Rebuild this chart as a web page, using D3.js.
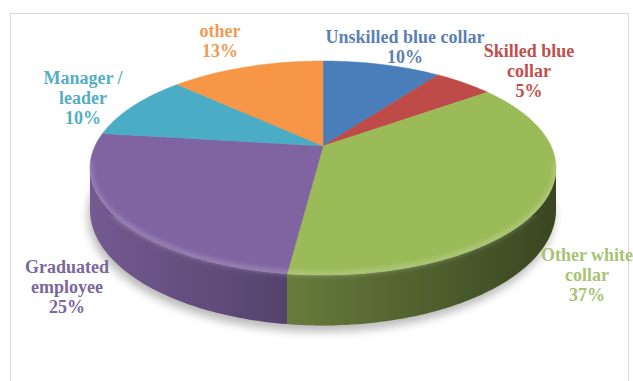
<!DOCTYPE html>
<html>
<head>
<meta charset="utf-8">
<script src="https://cdn.jsdelivr.net/npm/d3@7/dist/d3.min.js"></script>
<style>
  html, body { margin: 0; padding: 0; background: #fff; }
  svg { display: block; }
  .lbl { font-family: "Liberation Serif", "Times New Roman", serif; font-weight: bold; font-size: 18px; }
</style>
</head>
<body>
<svg id="chart" width="633" height="381"></svg>
<script>
// Occupation shares, clockwise from 12 o'clock
const categories = ["Unskilled blue collar", "Skilled blue collar", "Other white collar",
                    "Graduated employee", "Manager / leader", "other"];
const values = [10, 5, 37, 25, 10, 13];
// How each category name is broken over lines in its label
const labelNames = [["Unskilled blue collar"], ["Skilled blue", "collar"], ["Other white", "collar"],
                    ["Graduated", "employee"], ["Manager /", "leader"], ["other"]];
const sliceColors = ["#4a7ebb", "#be4b48", "#9bbb59", "#8064a2", "#4bacc6", "#f79646"];
const labelColors = ["#5b7fb3", "#c0504d", "#a9c274", "#7a67a0", "#55adc6", "#f29a55"];

const W = 633, H = 381;
const svg = d3.select("#chart");

// Perspective pie: centre, radii, perspective strength, wall depth
const CX = 323, CY = 146, A = 228, B = 102.5, P = 0.206, DEPTH = 40;
function proj(phi, r = 1, h = 0) {
  const w = 1 + P * r * Math.cos(phi);
  return [CX + A * r * Math.sin(phi) / w, CY - B * r * Math.cos(phi) / w + h / w];
}
function rim(a0, a1, h) {
  const n = Math.max(2, Math.ceil(Math.abs(a1 - a0) / (Math.PI / 180)));
  return d3.range(n + 1).map(i => proj(a0 + (a1 - a0) * i / n, 1, h));
}
const line = d3.line();

const defs = svg.append("defs");
defs.append("filter").attr("id", "shadowBlur").attr("x", "-20%").attr("y", "-20%")
  .attr("width", "140%").attr("height", "140%")
  .append("feGaussianBlur").attr("stdDeviation", 5);
defs.append("filter").attr("id", "soft")
  .append("feGaussianBlur").attr("stdDeviation", 2);
const shade = defs.append("linearGradient").attr("id", "sideShade")
  .attr("gradientUnits", "userSpaceOnUse").attr("x1", 89).attr("x2", 557).attr("y1", 0).attr("y2", 0);
shade.append("stop").attr("offset", 0).attr("stop-color", "#000").attr("stop-opacity", 0.1);
shade.append("stop").attr("offset", 0.45).attr("stop-color", "#000").attr("stop-opacity", 0.35);
shade.append("stop").attr("offset", 1).attr("stop-color", "#000").attr("stop-opacity", 0.63);

// chart area frame
svg.append("rect").attr("x", 10.5).attr("y", 13.5).attr("width", 618).attr("height", 400)
  .attr("fill", "#fff").attr("stroke", "#d9d9d9");

const pie = d3.pie().sort(null).value(d => d.value);
const arcs = pie(values.map((v, i) => ({ value: v, i })));

const PHI_L = Math.acos(-P), PHI_R = 2 * Math.PI - Math.acos(-P);

// soft drop shadow under the disc
const shadowPts = rim(-Math.PI, Math.PI, DEPTH).map(([x, y]) => [x - 2, y + 6]);
svg.append("path").attr("d", line(shadowPts) + "Z")
  .attr("fill", "#000").attr("opacity", 0.28).attr("filter", "url(#shadowBlur)");

// walls of the front half
const walls = svg.append("g");
arcs.forEach(a => {
  const s0 = Math.max(a.startAngle, PHI_L), s1 = Math.min(a.endAngle, PHI_R);
  if (s0 >= s1) return;
  const pts = rim(s0, s1, 0).concat(rim(s1, s0, DEPTH));
  const d = line(pts) + "Z";
  walls.append("path").attr("d", d).attr("fill", sliceColors[a.data.i]);
  walls.append("path").attr("d", d).attr("fill", "url(#sideShade)");
});

// top faces
const tops = svg.append("g");
arcs.forEach(a => {
  const pts = [[CX, CY]].concat(rim(a.startAngle, a.endAngle, 0));
  tops.append("path").attr("d", line(pts) + "Z").attr("fill", sliceColors[a.data.i])
    .attr("stroke", sliceColors[a.data.i]).attr("stroke-width", 0.5);
});

// rounded-edge highlight along the front rim
const clip = defs.append("clipPath").attr("id", "discClip");
clip.append("path").attr("d", line(rim(-Math.PI, Math.PI, 0).concat(rim(PHI_L, PHI_R, DEPTH))) + "Z");
svg.append("path").attr("d", line(rim(PHI_L - 0.05, PHI_R + 0.05, -1)))
  .attr("fill", "none").attr("stroke", "#fff").attr("stroke-opacity", 0.2)
  .attr("stroke-width", 5).attr("filter", "url(#soft)").attr("clip-path", "url(#discClip)");

// data labels
const labelPos = [[405, 47], [529, 71], [587, 275], [67, 287], [83, 98], [220, 41]];
const LINE = 20;
arcs.forEach(a => {
  const i = a.data.i;
  const lines = labelNames[i].concat([a.data.value + "%"]);
  const [lx, ly] = labelPos[i];
  const t = svg.append("text").attr("class", "lbl").attr("fill", labelColors[i])
    .attr("text-anchor", "middle");
  lines.forEach((s, k) => {
    t.append("tspan").attr("x", lx).attr("y", ly + (k - (lines.length - 1) / 2) * LINE)
      .attr("dy", "0.35em").text(s);
  });
});
</script>
</body>
</html>
